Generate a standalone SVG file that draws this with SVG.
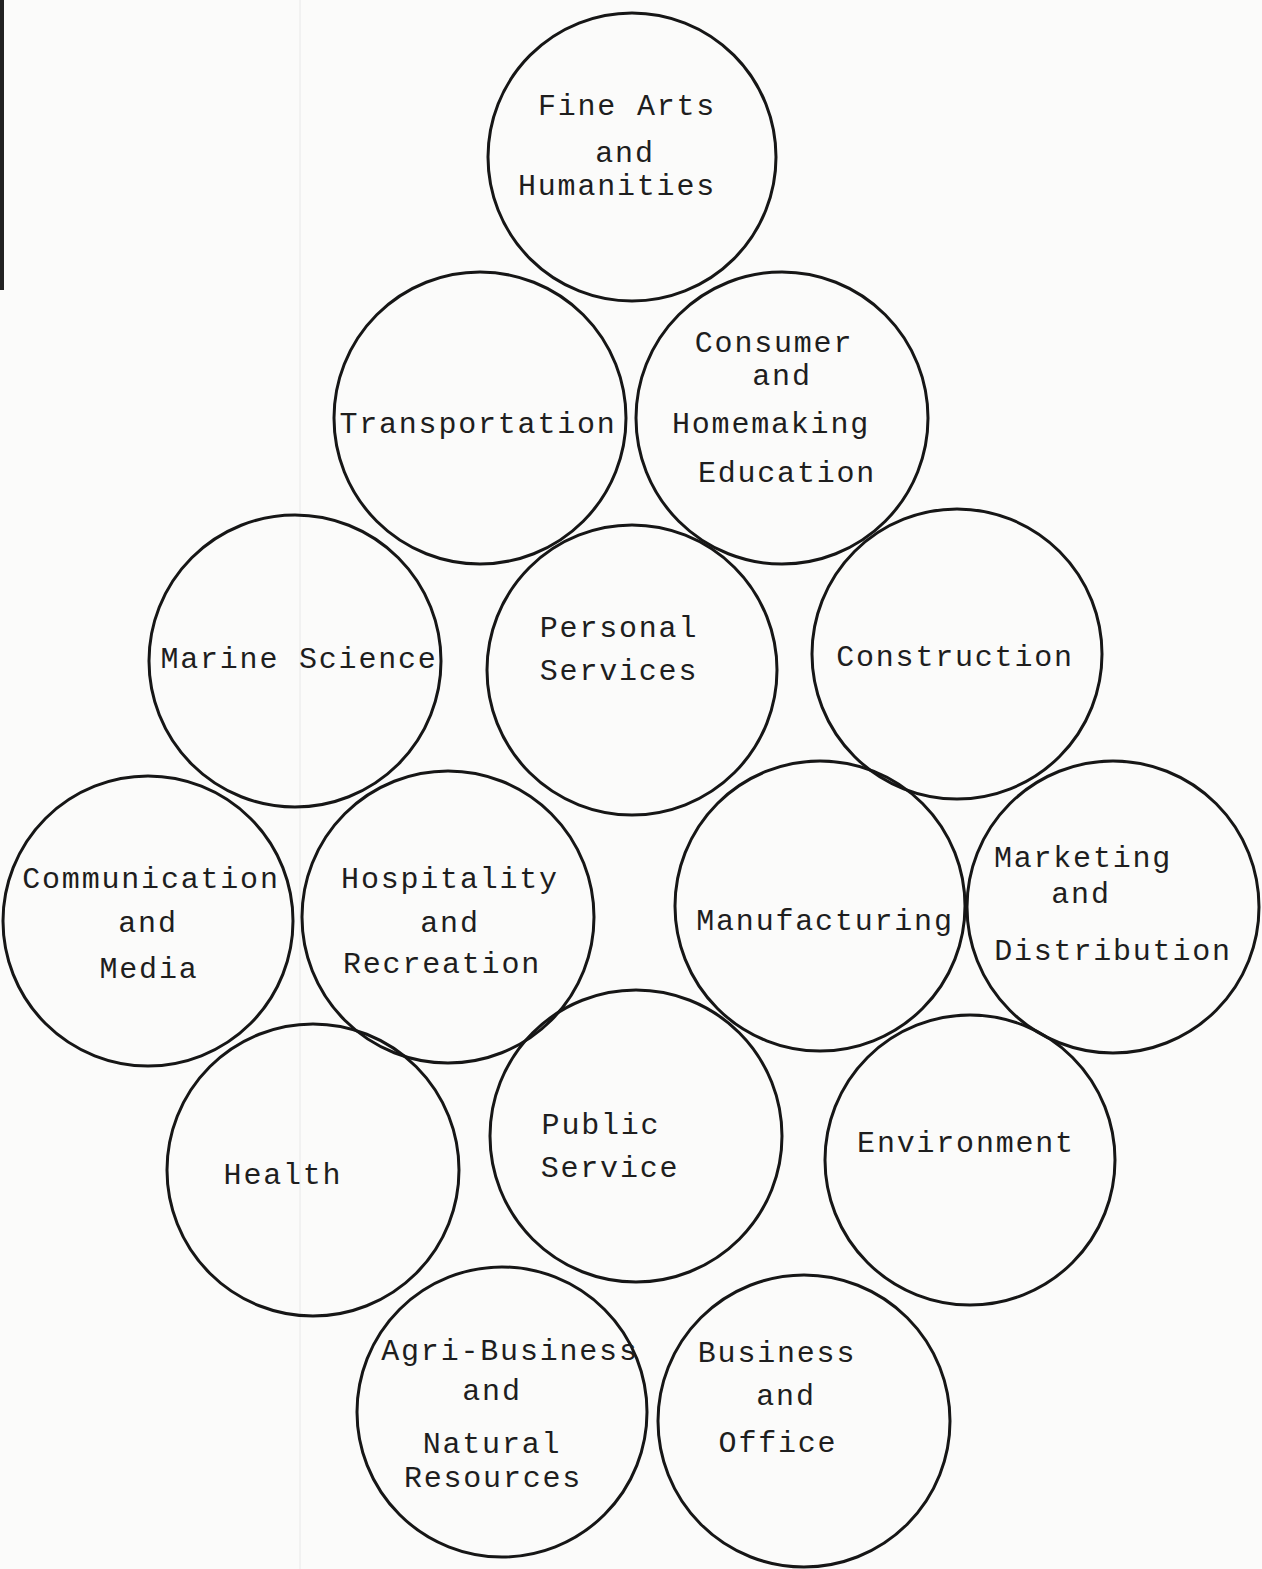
<svg xmlns="http://www.w3.org/2000/svg" width="1262" height="1569" viewBox="0 0 1262 1569">
<style>
.c{fill:none;stroke:#161616;stroke-width:3}
.t{font-family:"Liberation Mono","DejaVu Sans Mono",monospace;font-size:30px;letter-spacing:1.8px;fill:#1e1e1e;text-anchor:middle}
</style>
<rect x="0" y="0" width="1262" height="1569" fill="#fbfbfa"/>
<rect x="0" y="0" width="4" height="290" fill="#222"/>
<line x1="300" y1="0" x2="300" y2="1569" stroke="#e8e8e8" stroke-width="1"/>
<g id="connectors"></g>
<g id="fine-arts"><circle class="c" cx="632" cy="157" r="144"/>
<text class="t" x="627" y="115">Fine Arts</text><text class="t" x="625" y="162">and</text><text class="t" x="617" y="195">Humanities</text></g>
<g id="transportation"><circle class="c" cx="480" cy="418" r="146"/>
<text class="t" x="478" y="433">Transportation</text></g>
<g id="consumer"><circle class="c" cx="782" cy="418" r="146"/>
<text class="t" x="774" y="352">Consumer</text><text class="t" x="782" y="385">and</text><text class="t" x="771" y="433">Homemaking</text><text class="t" x="787" y="482">Education</text></g>
<g id="marine"><circle class="c" cx="295" cy="661" r="146"/>
<text class="t" x="299" y="668">Marine Science</text></g>
<g id="personal"><circle class="c" cx="632" cy="670" r="145"/>
<text class="t" x="619" y="637">Personal</text><text class="t" x="619" y="680">Services</text></g>
<g id="construction"><circle class="c" cx="957" cy="654" r="145"/>
<text class="t" x="955" y="666">Construction</text></g>
<g id="communication"><circle class="c" cx="148" cy="921" r="145"/>
<text class="t" x="151" y="888">Communication</text><text class="t" x="148" y="932">and</text><text class="t" x="149" y="978">Media</text></g>
<g id="hospitality"><circle class="c" cx="448" cy="917" r="146"/>
<text class="t" x="450" y="888">Hospitality</text><text class="t" x="450" y="932">and</text><text class="t" x="442" y="973">Recreation</text></g>
<g id="manufacturing"><circle class="c" cx="820" cy="906" r="145"/>
<text class="t" x="825" y="930">Manufacturing</text></g>
<g id="marketing"><circle class="c" cx="1113" cy="907" r="146"/>
<text class="t" x="1083" y="867">Marketing</text><text class="t" x="1081" y="903">and</text><text class="t" x="1113" y="960">Distribution</text></g>
<g id="health"><circle class="c" cx="313" cy="1170" r="146"/>
<text class="t" x="283" y="1184">Health</text></g>
<g id="public-service"><circle class="c" cx="636" cy="1136" r="146"/>
<text class="t" x="601" y="1134">Public</text><text class="t" x="610" y="1177">Service</text></g>
<g id="environment"><circle class="c" cx="970" cy="1160" r="145"/>
<text class="t" x="966" y="1152">Environment</text></g>
<g id="agri-business"><circle class="c" cx="502" cy="1412" r="145"/>
<text class="t" x="510" y="1360">Agri-Business</text><text class="t" x="492" y="1400">and</text><text class="t" x="492" y="1453">Natural</text><text class="t" x="493" y="1487">Resources</text></g>
<g id="business-office"><circle class="c" cx="804" cy="1421" r="146"/>
<text class="t" x="777" y="1362">Business</text><text class="t" x="786" y="1405">and</text><text class="t" x="778" y="1452">Office</text></g>
</svg>
